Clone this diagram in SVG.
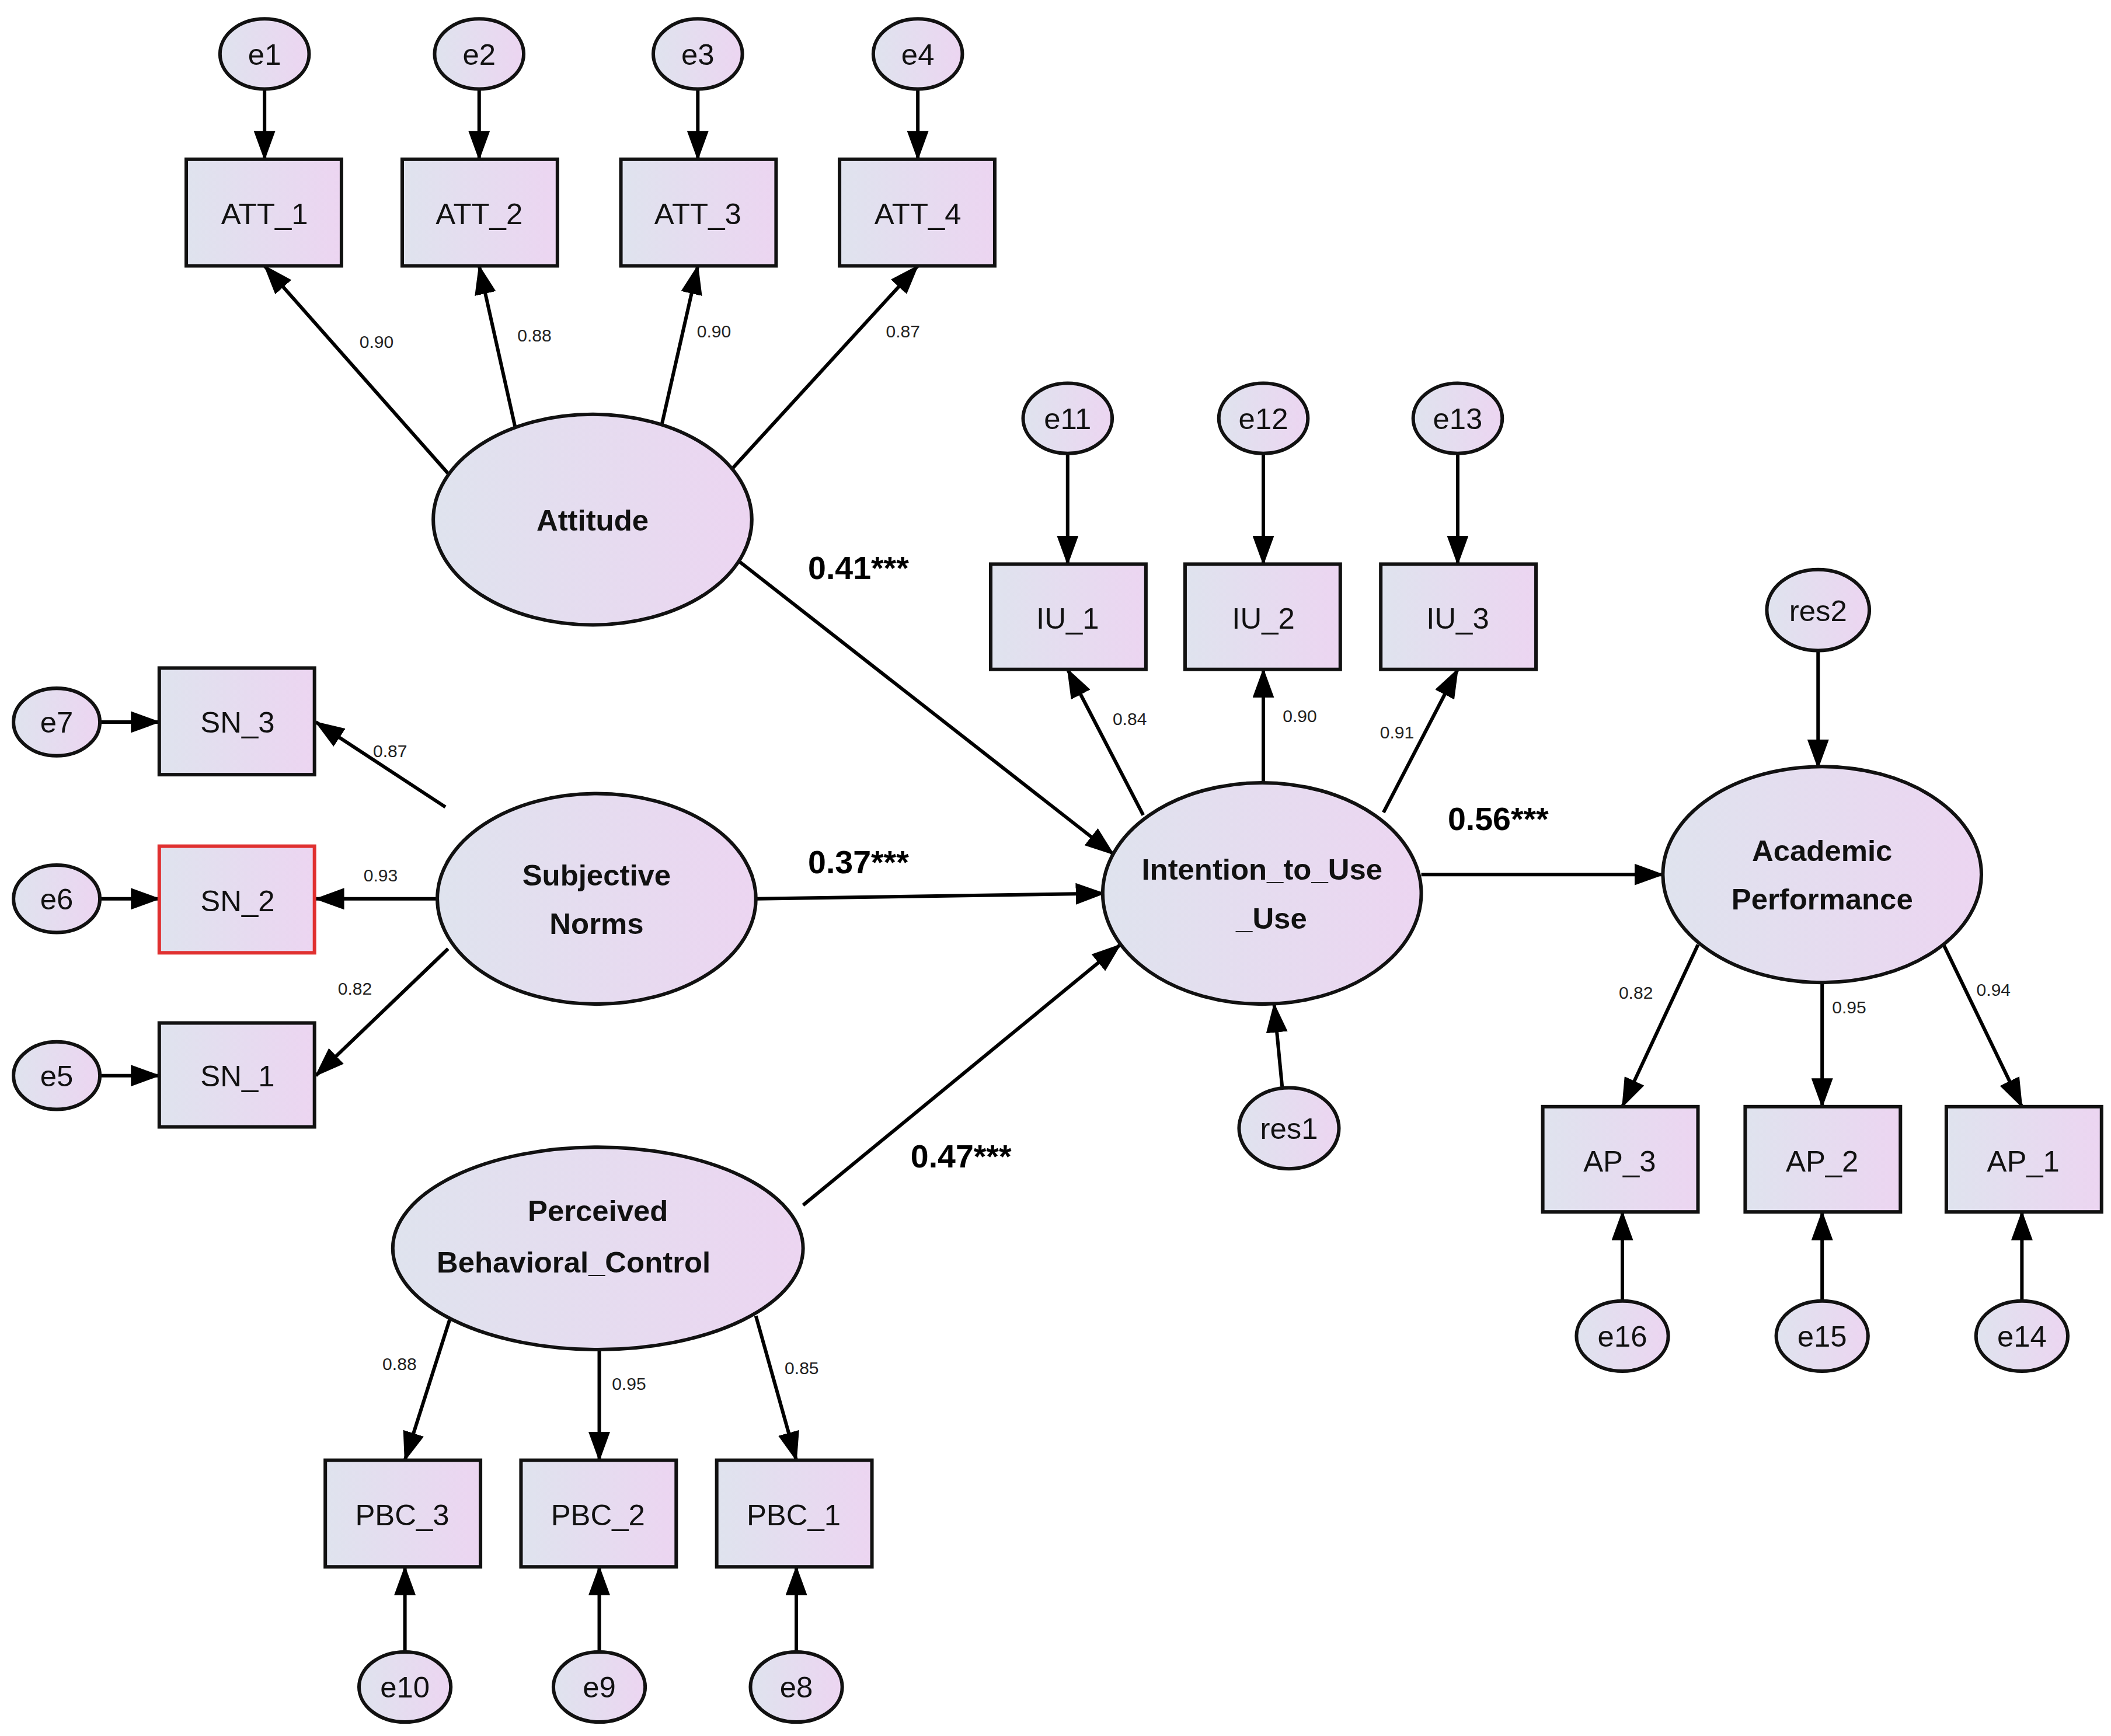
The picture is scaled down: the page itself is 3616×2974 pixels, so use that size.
<svg xmlns="http://www.w3.org/2000/svg" width="3616" height="2974" viewBox="0 0 3616 2974">
<defs>
<linearGradient id="g" x1="0" y1="0" x2="1" y2="0"><stop offset="0" stop-color="#dfe3ee"/><stop offset="1" stop-color="#ecd5f1"/></linearGradient>
<marker id="a" markerUnits="userSpaceOnUse" markerWidth="22" markerHeight="16" refX="21" refY="8" orient="auto"><path d="M0,0 L22,8 L0,16 Z" fill="#000"/></marker>
<style>
.n{fill:url(#g);stroke:#111;stroke-width:2.6}
.t{font-family:"Liberation Sans",Arial,sans-serif;font-size:22px;text-anchor:middle;fill:#111}
.b{font-family:"Liberation Sans",Arial,sans-serif;font-size:22px;font-weight:bold;text-anchor:middle;fill:#111}
.s{font-family:"Liberation Sans",Arial,sans-serif;font-size:13px;text-anchor:middle;fill:#222}
.c{font-family:"Liberation Sans",Arial,sans-serif;font-size:24px;font-weight:bold;text-anchor:middle;fill:#000}
.l{stroke:#000;stroke-width:2.6;fill:none;marker-end:url(#a)}
</style>
</defs>
<rect width="3616" height="2974" fill="#fff"/>
<g transform="scale(2.312)">
<g id="connectors">
<line class="l" x1="196" y1="66" x2="196" y2="118"/>
<line class="l" x1="355" y1="66" x2="355" y2="118"/>
<line class="l" x1="517" y1="66" x2="517" y2="118"/>
<line class="l" x1="680" y1="66" x2="680" y2="118"/>
<line class="l" x1="333" y1="352" x2="196" y2="197"/>
<line class="l" x1="382" y1="318" x2="355" y2="197"/>
<line class="l" x1="490" y1="316" x2="517" y2="197"/>
<line class="l" x1="540" y1="350" x2="680" y2="197"/>
<line class="l" x1="74" y1="535" x2="118" y2="535"/>
<line class="l" x1="74" y1="666" x2="118" y2="666"/>
<line class="l" x1="74" y1="797" x2="118" y2="797"/>
<line class="l" x1="330" y1="598" x2="234" y2="535"/>
<line class="l" x1="324" y1="666" x2="234" y2="666"/>
<line class="l" x1="332" y1="703" x2="234" y2="797"/>
<line class="l" x1="791" y1="336" x2="791" y2="418"/>
<line class="l" x1="936" y1="336" x2="936" y2="418"/>
<line class="l" x1="1080" y1="336" x2="1080" y2="418"/>
<line class="l" x1="847" y1="604" x2="791" y2="496"/>
<line class="l" x1="936" y1="580" x2="936" y2="496"/>
<line class="l" x1="1025" y1="602" x2="1080" y2="496"/>
<line class="l" x1="950" y1="806" x2="944" y2="744"/>
<line class="l" x1="540" y1="410" x2="825" y2="633"/>
<line class="l" x1="560" y1="666" x2="818" y2="662"/>
<line class="l" x1="595" y1="893" x2="830" y2="700"/>
<line class="l" x1="1053" y1="648" x2="1232" y2="648"/>
<line class="l" x1="1347" y1="482" x2="1347" y2="569"/>
<line class="l" x1="1258" y1="700" x2="1202" y2="820"/>
<line class="l" x1="1350" y1="728" x2="1350" y2="820"/>
<line class="l" x1="1440" y1="700" x2="1498" y2="820"/>
<line class="l" x1="1202" y1="965" x2="1202" y2="898"/>
<line class="l" x1="1350" y1="965" x2="1350" y2="898"/>
<line class="l" x1="1498" y1="965" x2="1498" y2="898"/>
<line class="l" x1="335" y1="972" x2="300" y2="1082"/>
<line class="l" x1="444" y1="1000" x2="444" y2="1082"/>
<line class="l" x1="560" y1="975" x2="590" y2="1082"/>
<line class="l" x1="300" y1="1225" x2="300" y2="1161"/>
<line class="l" x1="444" y1="1225" x2="444" y2="1161"/>
<line class="l" x1="590" y1="1225" x2="590" y2="1161"/>
<text class="s" x="279" y="258">0.90</text>
<text class="s" x="396" y="253">0.88</text>
<text class="s" x="529" y="250">0.90</text>
<text class="s" x="669" y="250">0.87</text>
<text class="s" x="289" y="561">0.87</text>
<text class="s" x="282" y="653">0.93</text>
<text class="s" x="263" y="737">0.82</text>
<text class="s" x="837" y="537">0.84</text>
<text class="s" x="963" y="535">0.90</text>
<text class="s" x="1035" y="547">0.91</text>
<text class="s" x="1212" y="740">0.82</text>
<text class="s" x="1370" y="751">0.95</text>
<text class="s" x="1477" y="738">0.94</text>
<text class="s" x="296" y="1015">0.88</text>
<text class="s" x="466" y="1030">0.95</text>
<text class="s" x="594" y="1018">0.85</text>
<text class="c" x="636" y="429">0.41***</text>
<text class="c" x="636" y="647">0.37***</text>
<text class="c" x="712" y="865">0.47***</text>
<text class="c" x="1110" y="615">0.56***</text>
</g>
<g id="e1"><ellipse class="n" cx="196" cy="40" rx="33" ry="26"/><text class="t" x="196" y="48">e1</text></g>
<g id="e2"><ellipse class="n" cx="355" cy="40" rx="33" ry="26"/><text class="t" x="355" y="48">e2</text></g>
<g id="e3"><ellipse class="n" cx="517" cy="40" rx="33" ry="26"/><text class="t" x="517" y="48">e3</text></g>
<g id="e4"><ellipse class="n" cx="680" cy="40" rx="33" ry="26"/><text class="t" x="680" y="48">e4</text></g>
<g id="ATT_1"><rect class="n" x="138" y="118" width="115" height="79"/><text class="t" x="196" y="166">ATT_1</text></g>
<g id="ATT_2"><rect class="n" x="298" y="118" width="115" height="79"/><text class="t" x="355" y="166">ATT_2</text></g>
<g id="ATT_3"><rect class="n" x="460" y="118" width="115" height="79"/><text class="t" x="517" y="166">ATT_3</text></g>
<g id="ATT_4"><rect class="n" x="622" y="118" width="115" height="79"/><text class="t" x="680" y="166">ATT_4</text></g>
<g id="Attitude"><ellipse class="n" cx="439" cy="385" rx="118" ry="78"/><text class="b" x="439" y="393">Attitude</text></g>
<g id="e7"><ellipse class="n" cx="42" cy="535" rx="32" ry="25"/><text class="t" x="42" y="543">e7</text></g>
<g id="e6"><ellipse class="n" cx="42" cy="666" rx="32" ry="25"/><text class="t" x="42" y="674">e6</text></g>
<g id="e5"><ellipse class="n" cx="42" cy="797" rx="32" ry="25"/><text class="t" x="42" y="805">e5</text></g>
<g id="SN_3"><rect class="n" x="118" y="495" width="115" height="79"/><text class="t" x="176" y="543">SN_3</text></g>
<g id="SN_2"><rect class="n" x="118" y="627" width="115" height="79" style="stroke:#e03030"/><text class="t" x="176" y="675">SN_2</text></g>
<g id="SN_1"><rect class="n" x="118" y="758" width="115" height="77"/><text class="t" x="176" y="805">SN_1</text></g>
<g id="SubjectiveNorms"><ellipse class="n" cx="442" cy="666" rx="118" ry="78"/><text class="b" x="442" y="656">Subjective</text><text class="b" x="442" y="692">Norms</text></g>
<g id="e11"><ellipse class="n" cx="791" cy="310" rx="33" ry="26"/><text class="t" x="791" y="318">e11</text></g>
<g id="e12"><ellipse class="n" cx="936" cy="310" rx="33" ry="26"/><text class="t" x="936" y="318">e12</text></g>
<g id="e13"><ellipse class="n" cx="1080" cy="310" rx="33" ry="26"/><text class="t" x="1080" y="318">e13</text></g>
<g id="IU_1"><rect class="n" x="734" y="418" width="115" height="78"/><text class="t" x="791" y="466">IU_1</text></g>
<g id="IU_2"><rect class="n" x="878" y="418" width="115" height="78"/><text class="t" x="936" y="466">IU_2</text></g>
<g id="IU_3"><rect class="n" x="1023" y="418" width="115" height="78"/><text class="t" x="1080" y="466">IU_3</text></g>
<g id="Intention"><ellipse class="n" cx="935" cy="662" rx="118" ry="82"/><text class="b" x="935" y="652">Intention_to_Use</text><text class="b" x="942" y="688">_Use</text></g>
<g id="res1"><ellipse class="n" cx="955" cy="836" rx="37" ry="30"/><text class="t" x="955" y="844">res1</text></g>
<g id="res2"><ellipse class="n" cx="1347" cy="452" rx="38" ry="30"/><text class="t" x="1347" y="460">res2</text></g>
<g id="AcademicPerformance"><ellipse class="n" cx="1350" cy="648" rx="118" ry="80"/><text class="b" x="1350" y="638">Academic</text><text class="b" x="1350" y="674">Performance</text></g>
<g id="AP_3"><rect class="n" x="1143" y="820" width="115" height="78"/><text class="t" x="1200" y="868">AP_3</text></g>
<g id="AP_2"><rect class="n" x="1293" y="820" width="115" height="78"/><text class="t" x="1350" y="868">AP_2</text></g>
<g id="AP_1"><rect class="n" x="1442" y="820" width="115" height="78"/><text class="t" x="1499" y="868">AP_1</text></g>
<g id="e16"><ellipse class="n" cx="1202" cy="990" rx="34" ry="26"/><text class="t" x="1202" y="998">e16</text></g>
<g id="e15"><ellipse class="n" cx="1350" cy="990" rx="34" ry="26"/><text class="t" x="1350" y="998">e15</text></g>
<g id="e14"><ellipse class="n" cx="1498" cy="990" rx="34" ry="26"/><text class="t" x="1498" y="998">e14</text></g>
<g id="PBC"><ellipse class="n" cx="443" cy="925" rx="152" ry="75"/><text class="b" x="443" y="905">Perceived</text><text class="b" x="425" y="943">Behavioral_Control</text></g>
<g id="PBC_3"><rect class="n" x="241" y="1082" width="115" height="79"/><text class="t" x="298" y="1130">PBC_3</text></g>
<g id="PBC_2"><rect class="n" x="386" y="1082" width="115" height="79"/><text class="t" x="443" y="1130">PBC_2</text></g>
<g id="PBC_1"><rect class="n" x="531" y="1082" width="115" height="79"/><text class="t" x="588" y="1130">PBC_1</text></g>
<g id="e10"><ellipse class="n" cx="300" cy="1250" rx="34" ry="26"/><text class="t" x="300" y="1258">e10</text></g>
<g id="e9"><ellipse class="n" cx="444" cy="1250" rx="34" ry="26"/><text class="t" x="444" y="1258">e9</text></g>
<g id="e8"><ellipse class="n" cx="590" cy="1250" rx="34" ry="26"/><text class="t" x="590" y="1258">e8</text></g>
</g>
</svg>
